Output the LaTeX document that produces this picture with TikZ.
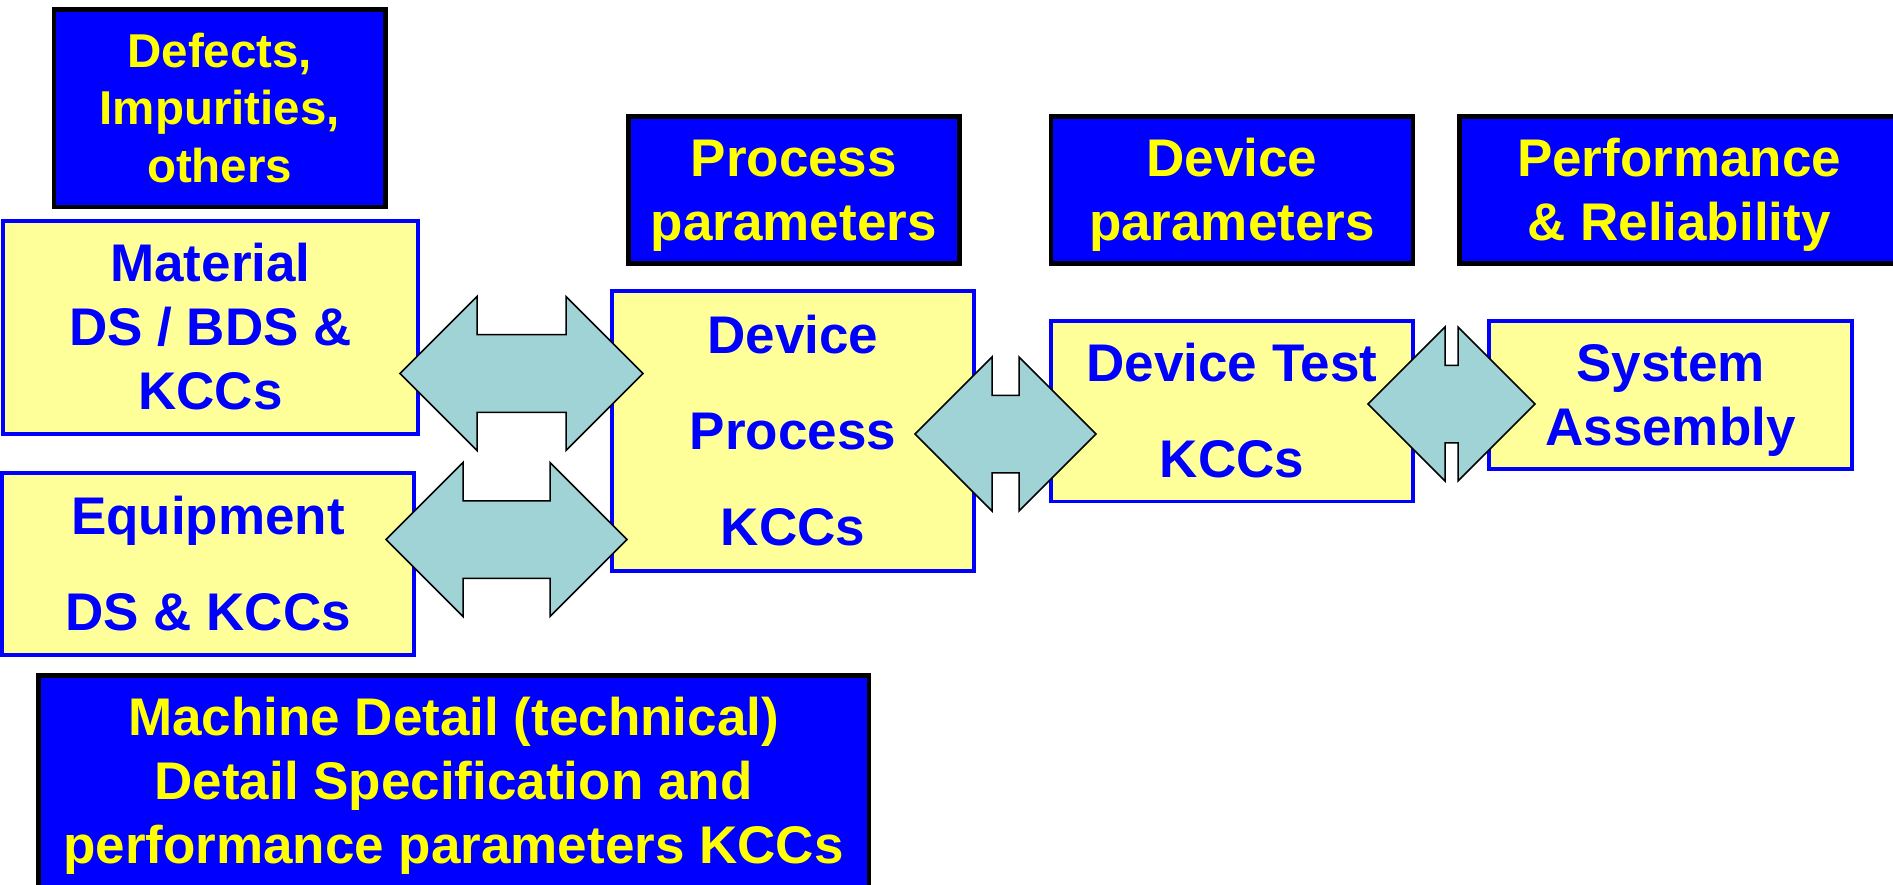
\documentclass[tikz,border=0pt]{standalone}
\usepackage{fontspec}
\setmainfont{Liberation Sans}
\usetikzlibrary{calc}
\definecolor{dkblue}{RGB}{0,0,255}
\definecolor{ltyellow}{RGB}{255,255,153}
\definecolor{txtyellow}{RGB}{255,255,0}
\definecolor{arrowteal}{RGB}{160,211,214}
\newcommand{\capline}[1]{\rule{0pt}{\fontcharht\font`H}\smash{#1}}
\newcommand{\blockarrowLR}[2]{%
  \draw[barrow] let \p1=(#1), \p2=(#2) in
    (\x1,\y1) -- (\x1+77pt,\y1+77pt) -- (\x1+77pt,\y1+38.75pt)
    -- (\x2-77pt,\y1+38.75pt) -- (\x2-77pt,\y1+77pt) -- (\x2,\y1)
    -- (\x2-77pt,\y1-77pt) -- (\x2-77pt,\y1-38.75pt)
    -- (\x1+77pt,\y1-38.75pt) -- (\x1+77pt,\y1-77pt) -- cycle;}
\tikzset{
  darkbox/.style={draw=black, line width=4.5pt, fill=dkblue, text=txtyellow,
    inner sep=0pt, align=center, font=\bfseries\fontsize{53}{64}\selectfont},
  lightbox/.style={draw=dkblue, line width=3.75pt, fill=ltyellow, text=dkblue,
    inner sep=0pt, align=center, font=\bfseries\fontsize{53}{64}\selectfont},
  barrow/.style={draw=black, line width=1.5pt, fill=arrowteal, line join=miter},
}
\begin{document}
\begin{tikzpicture}[x=1pt,y=1pt]
\useasboundingbox (0,0) rectangle (1893,-885);
\clip (0,0) rectangle (1893,-885);
% dark (blue) boxes
\node[darkbox, minimum width=331.3pt, minimum height=197.2pt,
      font=\bfseries\fontsize{47.5}{57.5}\selectfont] (def) at (219.7,-108.2)
  {\capline{Defects,}\\\capline{Impurities,}\\\capline{others}};
\node[darkbox, minimum width=331pt, minimum height=147pt] (pp) at (793.8,-189.9)
  {\capline{Process}\\\capline{parameters}};
\node[darkbox, minimum width=361.8pt, minimum height=147pt] (dpar) at (1231.9,-189.9)
  {\capline{Device}\\\capline{parameters}};
\node[darkbox, minimum width=439.5pt, minimum height=147pt] (perf) at (1679,-189.9)
  {\capline{Performance}\\\capline{\& Reliability}};
\node[darkbox, minimum width=830.5pt, minimum height=211.5pt] (mach) at (453.5,-781)
  {\capline{Machine Detail (technical)}\\\capline{Detail Specification and}\\\capline{performance parameters KCCs}};
% light (yellow) boxes
\node[lightbox, minimum width=415.25pt, minimum height=213.25pt] (mat) at (210.5,-327.5)
  {\capline{Material}\\\capline{DS / BDS \&}\\\capline{KCCs}};
\node[lightbox, minimum width=412.25pt, minimum height=182.5pt] (equip) at (208,-563.9)
  {\capline{Equipment}\\[32pt]\capline{DS \& KCCs}};
\node[lightbox, minimum width=362.5pt, minimum height=279.6pt] (dproc) at (792.9,-431)
  {\capline{Device}\\[32pt]\capline{Process}\\[32pt]\capline{KCCs}};
\node[lightbox, minimum width=362.5pt, minimum height=180.2pt] (dtest) at (1231.9,-411.3)
  {\capline{Device Test}\\[32pt]\capline{KCCs}};
\node[lightbox, minimum width=363.25pt, minimum height=148.25pt] (sysa) at (1670.5,-395)
  {\capline{System}\\\capline{Assembly}};
% arrow tips
\coordinate (a1l) at (400,-373.5);
\coordinate (a1r) at (643,-373.5);
\coordinate (a2l) at (386,-539.5);
\coordinate (a2r) at (627,-539.5);
\coordinate (a3l) at (915,-434);
\coordinate (a3r) at (1096,-434);
\coordinate (a4l) at (1368,-404);
\coordinate (a4r) at (1535,-404);
\blockarrowLR{a1l}{a1r}
\blockarrowLR{a2l}{a2r}
\blockarrowLR{a3l}{a3r}
\blockarrowLR{a4l}{a4r}
\end{tikzpicture}
\end{document}
